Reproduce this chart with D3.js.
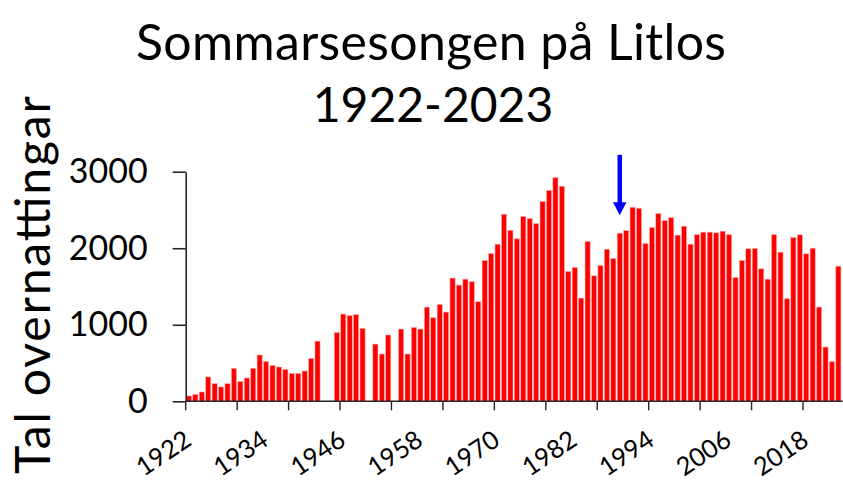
<!DOCTYPE html>
<html>
<head>
<meta charset="utf-8">
<script src="https://cdn.jsdelivr.net/npm/d3@7"></script>
<style>
  html, body { margin: 0; padding: 0; background: #fff; }
  svg { display: block; }
  text { font-family: Lato, "Open Sans", sans-serif; }
</style>
</head>
<body>
<div id="chart"></div>
<script>
// ---- Data ----
const years = d3.range(1922, 2024).map(String);
const values = [
  70, 91, 122, 318, 231, 187, 231, 431, 261, 305,
  431, 605, 522, 470, 448, 418, 365, 365, 396, 561,
  787, 0, 0, 900, 1140, 1122, 1135, 953, 0, 748,
  618, 866, 0, 944, 618, 966, 944, 1231, 1092, 1266,
  1166, 1610, 1518, 1596, 1562, 1301, 1840, 1931, 2053, 2445,
  2236, 2123, 2414, 2388, 2323, 2610, 2754, 2923, 2810, 1697,
  1749, 1349, 2088, 1640, 1775, 1988, 1866, 2197, 2232, 2536,
  2523, 2062, 2271, 2453, 2362, 2401, 2171, 2288, 2053, 2179,
  2210, 2210, 2201, 2223, 2179, 1618, 1840, 1992, 1997, 1731,
  1596, 2179, 1949, 1340, 2140, 2175, 1927, 2001, 1231, 709,
  518, 1766
];
const yTicks = [0, 1000, 2000, 3000];
const xLabelYears = ["1922", "1934", "1946", "1958", "1970", "1982", "1994", "2006", "2018"];
const titleLines = ["Sommarsesongen på Litlos", "1922-2023"];
const yTitle = "Tal overnattingar";
const arrowYear = "1989";
const arrowFrom = 3220, arrowTo = 2430;

// ---- Layout ----
const W = 843, H = 481;
const mLeft = 185.7, mRight = 841.6, mTop = 171.7, mBottom = 401.3;

const svg = d3.select("#chart").append("svg").attr("width", W).attr("height", H);

const x = d3.scaleBand().domain(years).range([mLeft, mRight])
  .paddingInner(0.2).paddingOuter(0.1);
const y = d3.scaleLinear().domain([0, 3000]).range([mBottom, mTop]);
const step = x.step();
const po = x.paddingOuter();

// bars
svg.append("g").selectAll("rect")
  .data(years.map((yr, i) => ({ yr, v: values[i] })).filter(d => d.v > 0))
  .join("rect")
  .attr("x", d => x(d.yr))
  .attr("width", x.bandwidth())
  .attr("y", d => y(d.v))
  .attr("height", d => y(0) - y(d.v))
  .attr("fill", "#ff0000")
  .attr("stroke", "#ffb0b0")
  .attr("stroke-width", 0.6);

// y axis
const yAxis = svg.append("g").attr("transform", `translate(${mLeft},0)`)
  .call(d3.axisLeft(y).tickValues(yTicks).tickFormat(d3.format("d")).tickSize(13).tickPadding(25).tickSizeOuter(0));
yAxis.select(".domain").attr("stroke", "#262626").attr("stroke-width", 1.6);
yAxis.selectAll(".tick line").attr("stroke", "#262626").attr("stroke-width", 1.6);
yAxis.selectAll(".tick text").attr("font-size", 34).attr("font-family", "Lato").attr("fill", "#000");

// x axis line
svg.append("line").attr("x1", mLeft).attr("x2", mRight + 1).attr("y1", mBottom).attr("y2", mBottom)
  .attr("stroke", "#262626").attr("stroke-width", 1.6);
// x ticks every 8 categories at band boundaries
const tickIdx = d3.range(0, years.length, 8);
svg.append("g").selectAll("line").data(tickIdx).join("line")
  .attr("x1", i => x(years[i]) - step * po)
  .attr("x2", i => x(years[i]) - step * po)
  .attr("y1", mBottom).attr("y2", mBottom + 9)
  .attr("stroke", "#262626").attr("stroke-width", 1.4);

// x labels
svg.append("g").selectAll("text").data(xLabelYears).join("text")
  .attr("transform", d => `translate(${x(d) + x.bandwidth() / 2 + 4},${444}) rotate(-34)`)
  .attr("text-anchor", "end")
  .attr("font-size", 25.5)
  .attr("fill", "#000")
  .text(d => d);

// title
svg.append("text").attr("x", 431).attr("y", 60).attr("text-anchor", "middle")
  .attr("font-size", 50).attr("textLength", 590).attr("fill", "#000").text(titleLines[0]);
svg.append("text").attr("x", 433).attr("y", 122).attr("text-anchor", "middle")
  .attr("font-size", 48).attr("fill", "#000").text(titleLines[1]);

// y title
svg.append("text").attr("transform", `translate(50,285) rotate(-90)`)
  .attr("text-anchor", "middle").attr("font-size", 48).attr("textLength", 378)
  .attr("fill", "#000").text(yTitle);

// arrow
const ax = x(arrowYear) + x.bandwidth() / 2;
const headLen = 13, headHalf = 6.7;
svg.append("line").attr("x1", ax).attr("x2", ax)
  .attr("y1", y(arrowFrom)).attr("y2", y(arrowTo) - headLen + 1)
  .attr("stroke", "#0000ff").attr("stroke-width", 4.5);
svg.append("path")
  .attr("d", `M${ax - headHalf},${y(arrowTo) - headLen} L${ax + headHalf},${y(arrowTo) - headLen} L${ax},${y(arrowTo)} Z`)
  .attr("fill", "#0000ff");
</script>
</body>
</html>
